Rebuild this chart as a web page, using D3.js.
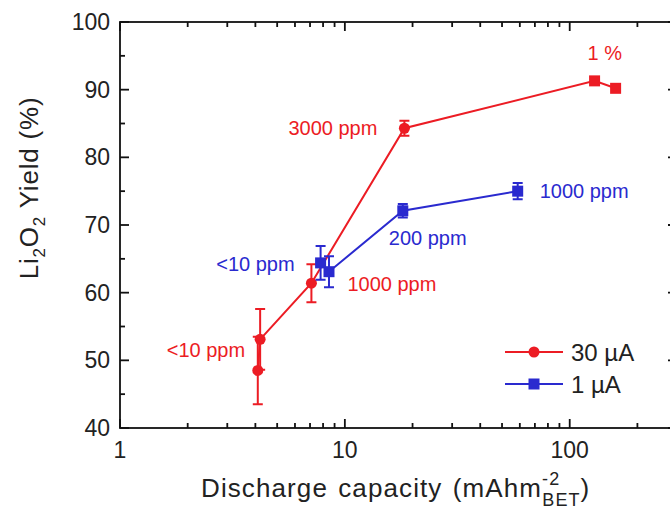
<!DOCTYPE html>
<html>
<head>
<meta charset="utf-8">
<script src="https://cdn.jsdelivr.net/npm/d3@7"></script>
<style>
    body { margin: 0; background: #fff; }
    svg { display: block; font-family: Arial, "Liberation Sans", sans-serif; }
</style>
</head>
<body>
<svg id="chart" width="670" height="510"></svg>
<script>
// 30 uA series
var redX = [4.1, 4.2, 7.1, 18.4, 129, 160];
var redY = [48.5, 53.1, 61.4, 84.3, 91.3, 90.2];
var redErr = [5.0, 4.5, 2.8, 1.1, 0, 0];
var redMarker = ['circle', 'circle', 'circle', 'circle', 'square', 'square'];

// 1 uA series
var blueX = [7.8, 8.5, 18.1, 58.7];
var blueY = [64.4, 63.1, 72.1, 75.0];
var blueErr = [2.5, 2.3, 1.0, 1.2];

// concentration labels: text, point index, offset
var redLabels = [
    {text: '<10 ppm', i: 1, dx: -15, dy: 18, anchor: 'end'},
    {text: '1000 ppm', i: 2, dx: 36, dy: 8, anchor: 'start'},
    {text: '3000 ppm', i: 3, dx: -27, dy: 7, anchor: 'end'},
    {text: '1 %', i: 4, dx: -7, dy: -21, anchor: 'start'}
];
var blueLabels = [
    {text: '<10 ppm', i: 0, dx: -26, dy: 8, anchor: 'end'},
    {text: '200 ppm', i: 2, dx: -14, dy: 34, anchor: 'start'},
    {text: '1000 ppm', i: 3, dx: 22, dy: 7, anchor: 'start'}
];

var xTicks = [1, 10, 100];
var yTicks = [40, 50, 60, 70, 80, 90, 100];

var RED = '#ec1c24';
var BLUE = '#2a2acf';

var margin = {left: 120, right: 677, top: 22, bottom: 428};

var svg = d3.select('#chart');

var x = d3.scaleLog().domain([1, 300]).range([margin.left, margin.right]);
var y = d3.scaleLinear().domain([40, 100]).range([margin.bottom, margin.top]);

// minor ticks
var xMinor = [];
[1, 10, 100].forEach(function(d) {
    for (var k = 2; k <= 9; k++) {
        if (d * k <= 300) xMinor.push(d * k);
    }
});
var yMinor = d3.range(45, 100, 10);

var axes = svg.append('g')
    .attr('stroke', '#111')
    .attr('stroke-width', 1.8);

function tickLines(vals, len, horizontal) {
    vals.forEach(function(v) {
        if (horizontal) {
            var px = x(v);
            axes.append('line').attr('x1', px).attr('x2', px)
                .attr('y1', margin.bottom).attr('y2', margin.bottom - len);
            axes.append('line').attr('x1', px).attr('x2', px)
                .attr('y1', margin.top).attr('y2', margin.top + len);
        } else {
            var py = y(v);
            axes.append('line').attr('y1', py).attr('y2', py)
                .attr('x1', margin.left).attr('x2', margin.left + len);
            axes.append('line').attr('y1', py).attr('y2', py)
                .attr('x1', margin.right).attr('x2', margin.right - len);
        }
    });
}

tickLines(xTicks, 9, true);
tickLines(xMinor, 5, true);
tickLines(yTicks, 9, false);
tickLines(yMinor, 5, false);

axes.append('rect')
    .attr('x', margin.left)
    .attr('y', margin.top)
    .attr('width', margin.right - margin.left)
    .attr('height', margin.bottom - margin.top)
    .attr('fill', 'none');

// tick labels
svg.append('g').selectAll('text')
    .data(yTicks)
    .join('text')
    .attr('x', margin.left - 10)
    .attr('y', function(d) { return y(d) + 8; })
    .attr('text-anchor', 'end')
    .attr('font-size', 23)
    .attr('fill', '#222')
    .text(function(d) { return d; });

svg.append('g').selectAll('text')
    .data(xTicks)
    .join('text')
    .attr('x', function(d) { return x(d); })
    .attr('y', 458)
    .attr('text-anchor', 'middle')
    .attr('font-size', 23)
    .attr('fill', '#222')
    .text(function(d) { return d; });

// axis titles
var xt = svg.append('text')
    .attr('x', 201)
    .attr('y', 497)
    .attr('font-size', 26)
    .attr('letter-spacing', 1.1)
    .attr('word-spacing', 2)
    .attr('fill', '#222');
xt.append('tspan').text('Discharge capacity (mAhm');
xt.append('tspan').attr('font-size', 18).attr('dy', -12).text('-2');
xt.append('tspan').attr('font-size', 18).attr('dx', -18).attr('dy', 21).text('BET');
xt.append('tspan').attr('dy', -9).text(')');

var yt = svg.append('text')
    .attr('transform', 'translate(38,188) rotate(-90)')
    .attr('text-anchor', 'middle')
    .attr('font-size', 26)
    .attr('letter-spacing', 0.8)
    .attr('fill', '#222');
yt.append('tspan').text('Li');
yt.append('tspan').attr('font-size', 17).attr('dy', 7).text('2');
yt.append('tspan').attr('dy', -7).text('O');
yt.append('tspan').attr('font-size', 17).attr('dy', 7).text('2');
yt.append('tspan').attr('dy', -7).text(' Yield (%)');

var line = d3.line()
    .x(function(d) { return x(d[0]); })
    .y(function(d) { return y(d[1]); });

function drawSeries(xs, ys, errs, markers, color) {
    var pts = xs.map(function(v, i) { return [v, ys[i], errs[i], markers[i]]; });
    var g = svg.append('g');

    g.append('path')
        .attr('d', line(pts))
        .attr('fill', 'none')
        .attr('stroke', color)
        .attr('stroke-width', 2);

    pts.forEach(function(p) {
        if (!p[2]) return;
        var px = x(p[0]);
        var y0 = y(p[1] - p[2]), y1 = y(p[1] + p[2]);
        g.append('path')
            .attr('d', 'M' + px + ',' + y0 + 'V' + y1 +
                'M' + (px - 5) + ',' + y0 + 'H' + (px + 5) +
                'M' + (px - 5) + ',' + y1 + 'H' + (px + 5))
            .attr('fill', 'none')
            .attr('stroke', color)
            .attr('stroke-width', 2);
    });

    pts.forEach(function(p) {
        if (p[3] === 'circle') {
            g.append('circle')
                .attr('cx', x(p[0])).attr('cy', y(p[1]))
                .attr('r', 5.5)
                .attr('fill', color);
        } else {
            g.append('rect')
                .attr('x', x(p[0]) - 5.5).attr('y', y(p[1]) - 5.5)
                .attr('width', 11).attr('height', 11)
                .attr('fill', color);
        }
    });
    return pts;
}

var redPts = drawSeries(redX, redY, redErr, redMarker, RED);
var bluePts = drawSeries(blueX, blueY, blueErr, blueX.map(function() { return 'square'; }), BLUE);

function drawLabels(labels, pts, color) {
    svg.append('g').selectAll('text')
        .data(labels)
        .join('text')
        .attr('x', function(d) { return x(pts[d.i][0]) + d.dx; })
        .attr('y', function(d) { return y(pts[d.i][1]) + d.dy; })
        .attr('text-anchor', function(d) { return d.anchor; })
        .attr('font-size', 20)
        .attr('fill', color)
        .text(function(d) { return d.text; });
}

drawLabels(redLabels, redPts, RED);
drawLabels(blueLabels, bluePts, BLUE);

// legend
var legend = svg.append('g');
[{label: '30 \u00b5A', color: RED, marker: 'circle', ly: 352},
 {label: '1 \u00b5A', color: BLUE, marker: 'square', ly: 384}].forEach(function(d) {
    legend.append('line')
        .attr('x1', 505).attr('x2', 563)
        .attr('y1', d.ly).attr('y2', d.ly)
        .attr('stroke', d.color).attr('stroke-width', 2);
    if (d.marker === 'circle') {
        legend.append('circle').attr('cx', 534).attr('cy', d.ly).attr('r', 5.5).attr('fill', d.color);
    } else {
        legend.append('rect').attr('x', 528.5).attr('y', d.ly - 5.5)
            .attr('width', 11).attr('height', 11).attr('fill', d.color);
    }
    legend.append('text')
        .attr('x', 571).attr('y', d.ly + 9)
        .attr('font-size', 24)
        .attr('fill', '#222')
        .text(d.label);
});
</script>
</body>
</html>
